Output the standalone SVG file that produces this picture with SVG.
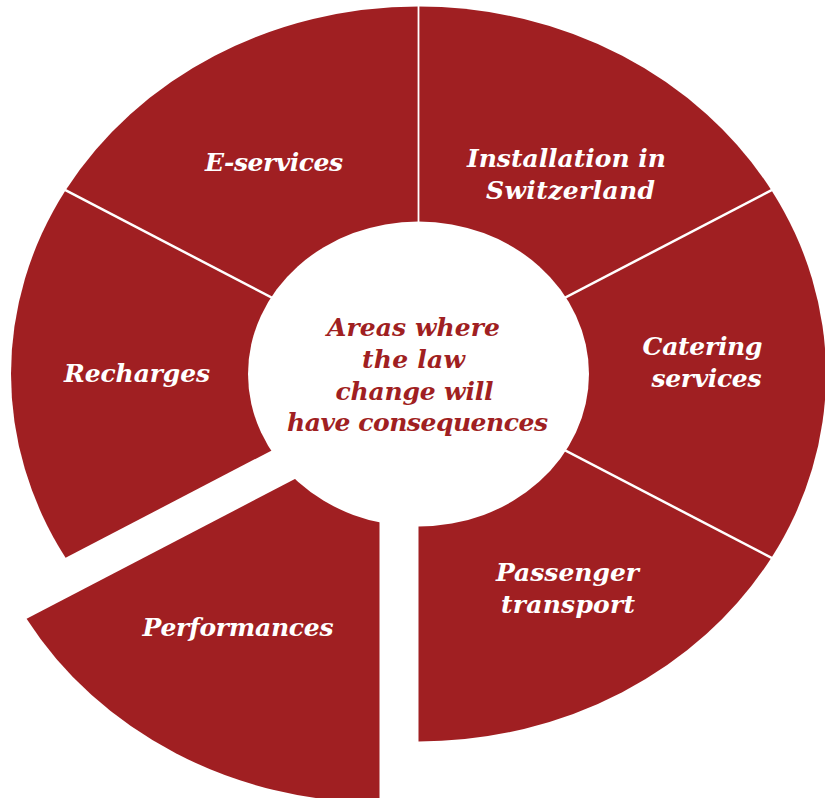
<svg xmlns="http://www.w3.org/2000/svg" width="825" height="798" viewBox="0 0 825 798">
  <style>
    .seg { fill: #A01F22; }
    .div { stroke: #FFFFFF; stroke-width: 2.5; fill: none; }
    .lbl { font-family: "DejaVu Serif", "Liberation Serif", serif; font-weight: bold; font-style: italic; font-size: 25px; fill: #FFFFFF; text-anchor: middle; }
    .hub { font-family: "DejaVu Serif", "Liberation Serif", serif; font-weight: bold; font-style: italic; font-size: 25px; fill: #A01F22; text-anchor: middle; }
  </style>

  <!-- ring segments: centre (418.5,374), outer radii 407.5 x 367.5, 60 degrees each -->
  <g id="installation">
    <path class="seg" d="M418.5,374 L418.5,6.5 A407.5,367.5 0 0 1 771.4,190.25 Z"/>
    <text class="lbl" x="566.5" y="166.5" textLength="199">Installation in</text>
    <text class="lbl" x="570.5" y="199" textLength="169">Switzerland</text>
  </g>
  <g id="catering">
    <path class="seg" d="M418.5,374 L771.4,190.25 A407.5,367.5 0 0 1 771.4,557.75 Z"/>
    <text class="lbl" x="702.5" y="355" textLength="120">Catering</text>
    <text class="lbl" x="706.5" y="386.5" textLength="110">services</text>
  </g>
  <g id="passenger">
    <path class="seg" d="M418.5,374 L771.4,557.75 A407.5,367.5 0 0 1 418.5,741.5 Z"/>
    <text class="lbl" x="567.5" y="581" textLength="143">Passenger</text>
    <text class="lbl" x="568" y="612.5" textLength="134">transport</text>
  </g>
  <!-- pulled-out segment -->
  <g id="performances">
    <path class="seg" transform="translate(-39,61)" d="M418.5,374 L418.5,741.5 A407.5,367.5 0 0 1 65.6,557.75 Z"/>
    <text class="lbl" x="238" y="636" textLength="191">Performances</text>
  </g>
  <g id="recharges">
    <path class="seg" d="M418.5,374 L65.6,557.75 A407.5,367.5 0 0 1 65.6,190.25 Z"/>
    <text class="lbl" x="137" y="381.5" textLength="146">Recharges</text>
  </g>
  <g id="e-services">
    <path class="seg" d="M418.5,374 L65.6,190.25 A407.5,367.5 0 0 1 418.5,6.5 Z"/>
    <text class="lbl" x="274" y="170.5" textLength="138">E-services</text>
  </g>

  <!-- white separators between touching segments -->
  <g id="dividers">
    <line class="div" x1="418.5" y1="374" x2="418.5" y2="4" style="stroke-width:1.8"/>
    <line class="div" x1="418.5" y1="374" x2="773" y2="189.4"/>
    <line class="div" x1="418.5" y1="374" x2="773" y2="558.6"/>
    <line class="div" x1="418.5" y1="374" x2="64" y2="189.4"/>
  </g>

  <!-- centre hub -->
  <g id="hub">
    <ellipse cx="418.5" cy="374" rx="170.5" ry="152.5" fill="#FFFFFF"/>
    <text class="hub" x="413.5" y="336" textLength="173">Areas where</text>
    <text class="hub" x="413.5" y="367.5" textLength="103">the law</text>
    <text class="hub" x="414.5" y="399.5" textLength="158">change will</text>
    <text class="hub" x="417.5" y="431" textLength="261">have consequences</text>
  </g>
</svg>
